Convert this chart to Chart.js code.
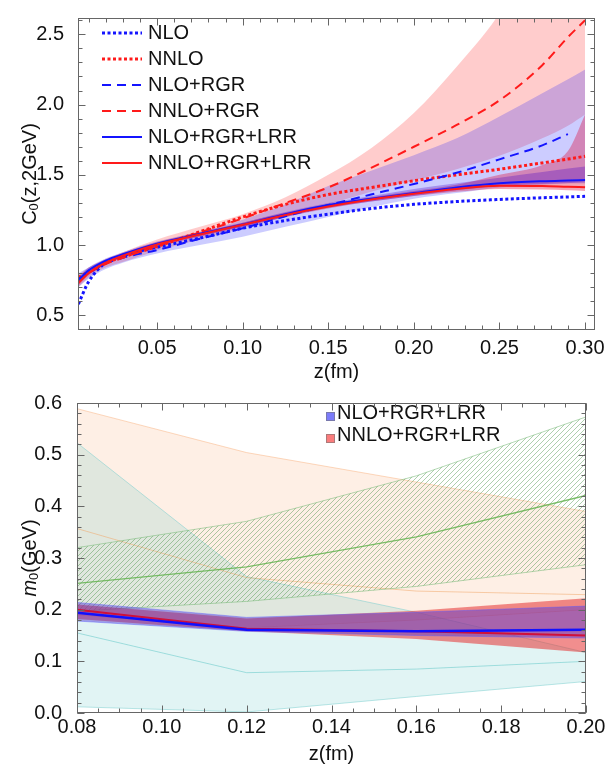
<!DOCTYPE html>
<html>
<head>
<meta charset="utf-8">
<script src="https://cdn.jsdelivr.net/npm/chart.js"></script>
<style>
  body { margin: 0; background: #fff; }
  canvas { display: block; }
</style>
</head>
<body>
<canvas id="top" width="608" height="384"></canvas>
<canvas id="bottom" width="608" height="384"></canvas>
<script>
// ---- top panel: C0(z, 2GeV) vs z ----
const zTop = [0.004, 0.01, 0.02, 0.03, 0.05, 0.075, 0.10, 0.125, 0.15, 0.175, 0.20, 0.225, 0.25, 0.275, 0.29, 0.30];

const nlo      = [0.58, 0.74, 0.875, 0.925, 0.985, 1.05, 1.12, 1.175, 1.22, 1.26, 1.29, 1.31, 1.325, 1.337, 1.343, 1.347];
const nnlo     = [0.77, 0.81, 0.875, 0.915, 0.99, 1.095, 1.20, 1.29, 1.36, 1.41, 1.458, 1.50, 1.54, 1.585, 1.612, 1.632];
const nloRgr   = [0.76, 0.80, 0.87, 0.91, 0.965, 1.045, 1.12, 1.205, 1.285, 1.36, 1.435, 1.515, 1.61, 1.71, 1.79, null];
const nnloRgr  = [0.74, 0.80, 0.865, 0.91, 0.995, 1.09, 1.19, 1.30, 1.41, 1.55, 1.70, 1.855, 2.03, 2.28, 2.48, 2.60];
const nloLrr   = [0.75, 0.82, 0.89, 0.935, 1.01, 1.08, 1.146, 1.22, 1.285, 1.33, 1.37, 1.41, 1.44, 1.455, 1.46, 1.463];
const nnloLrr  = [0.73, 0.80, 0.875, 0.925, 1.005, 1.075, 1.145, 1.215, 1.275, 1.325, 1.366, 1.40, 1.422, 1.42, 1.415, 1.412];

// uncertainty bands (lower / upper)
const nnloRgrLo = [0.70, 0.77, 0.84, 0.88, 0.96, 1.04, 1.12, 1.20, 1.29, 1.38, 1.46, 1.54, 1.635, 1.76, 1.85, 1.93];
const nnloRgrHi = [0.79, 0.84, 0.90, 0.95, 1.04, 1.13, 1.22, 1.34, 1.50, 1.69, 1.94, 2.27, 2.65, 3.2, 3.5, 3.9];
const nloRgrLo  = [0.70, 0.76, 0.83, 0.875, 0.94, 1.00, 1.06, 1.13, 1.20, 1.27, 1.33, 1.37, 1.41, 1.43, 1.44, 1.45];
const nloRgrHi  = [0.80, 0.84, 0.90, 0.94, 1.01, 1.09, 1.18, 1.29, 1.42, 1.53, 1.64, 1.76, 1.915, 2.08, 2.18, 2.25];
const nnloLrrLo = [0.71, 0.785, 0.86, 0.91, 0.99, 1.06, 1.13, 1.20, 1.26, 1.31, 1.35, 1.38, 1.40, 1.395, 1.39, 1.385];
const nnloLrrHi = [0.75, 0.815, 0.89, 0.94, 1.02, 1.09, 1.16, 1.23, 1.29, 1.34, 1.385, 1.43, 1.50, 1.57, 1.67, 1.93];
const nloLrrLo  = [0.73, 0.80, 0.875, 0.92, 0.995, 1.065, 1.13, 1.20, 1.265, 1.31, 1.35, 1.39, 1.42, 1.435, 1.44, 1.44];
const nloLrrHi  = [0.77, 0.84, 0.905, 0.95, 1.025, 1.095, 1.16, 1.235, 1.30, 1.35, 1.40, 1.44, 1.48, 1.52, 1.545, 1.56];

// ---- bottom panel: m0 vs z ----
const zBot = [0.08, 0.12, 0.16, 0.20];

const orangeLo  = [0.19, 0.165, 0.18, 0.20];
const orangeMid = [0.357, 0.262, 0.236, 0.229];
const orangeHi  = [0.589, 0.504, 0.447, 0.39];
const tealLo    = [0.012, 0.002, 0.032, 0.061];
const tealMid   = [0.155, 0.078, 0.085, 0.10];
const tealHi    = [0.523, 0.264, 0.195, 0.117];
const greenLo   = [0.197, 0.216, 0.245, 0.287];
const greenMid  = [0.251, 0.283, 0.341, 0.421];
const greenHi   = [0.32, 0.371, 0.459, 0.573];
const m0NloLo   = [0.178, 0.158, 0.15, 0.145];
const m0NloHi   = [0.214, 0.185, 0.195, 0.207];
const m0NnloLo  = [0.182, 0.158, 0.143, 0.117];
const m0NnloHi  = [0.21, 0.183, 0.198, 0.222];
const m0Nlo     = [0.194, 0.161, 0.158, 0.161];
const m0Nnlo    = [0.200, 0.163, 0.158, 0.150];

const FONT = '"Liberation Sans", Arial, sans-serif';
const FS = 20;
const BLUE = '#1414ff';
const RED = '#ff1a1a';

function pts(xs, ys) {
  return xs.map((x, i) => ({x: x, y: ys[i]}));
}

function line(label, xs, ys, color, dash, width) {
  return {label: label, data: pts(xs, ys), borderColor: color, borderWidth: width, borderDash: dash, fill: false};
}

// lower + upper dataset, filled between
function band(label, xs, lo, hi, color, edge) {
  return [
    {data: pts(xs, lo), borderColor: edge || 'transparent', borderWidth: edge ? 1 : 0, fill: false},
    {label: label, data: pts(xs, hi), borderColor: edge || 'transparent', borderWidth: edge ? 1 : 0,
     fill: '-1', backgroundColor: color}
  ];
}

// Mathematica-like frame with inward ticks on all four sides
const frameTicks = {
  id: 'frameTicks',
  afterDraw(chart, args, opts) {
    const {ctx, chartArea: a} = chart;
    const xs = chart.scales.x, ys = chart.scales.y;
    const L = Math.round(a.left) + 0.5, R = Math.round(a.right) - 0.5;
    const T = Math.round(a.top) + 0.5, B = Math.round(a.bottom) - 0.5;
    const list = (s, step) => {
      const out = [];
      for (let k = Math.ceil(s.min / step - 1e-6); k * step <= s.max + 1e-9; k++) out.push(k * step);
      return out;
    };
    ctx.save();
    ctx.strokeStyle = '#666';
    ctx.lineWidth = 1;
    ctx.beginPath();
    const tx = (v, len) => {
      const p = Math.round(xs.getPixelForValue(v)) + 0.5;
      ctx.moveTo(p, B); ctx.lineTo(p, B - len);
      ctx.moveTo(p, T); ctx.lineTo(p, T + len);
    };
    const ty = (v, len) => {
      const p = Math.round(ys.getPixelForValue(v)) + 0.5;
      ctx.moveTo(L, p); ctx.lineTo(L + len, p);
      ctx.moveTo(R, p); ctx.lineTo(R - len, p);
    };
    list(xs, opts.xMinor).forEach(v => tx(v, 4));
    list(ys, opts.yMinor).forEach(v => ty(v, 4));
    xs.ticks.forEach(t => tx(t.value, 7));
    ys.ticks.forEach(t => ty(t.value, 7));
    ctx.stroke();
    ctx.strokeRect(L, T, R - L, B - T);
    ctx.restore();
  }
};

// legend drawn inside the plot
const innerLegend = {
  id: 'innerLegend',
  afterDatasetsDraw(chart, args, opts) {
    const ctx = chart.ctx;
    ctx.save();
    ctx.font = FS + 'px ' + FONT;
    ctx.textBaseline = 'middle';
    opts.rows.forEach((idx, r) => {
      const ds = chart.data.datasets[idx];
      const y = opts.y + r * opts.gap;
      if (opts.boxes) {
        ctx.fillStyle = opts.boxes[r];
        ctx.strokeStyle = 'rgba(120,120,120,0.6)';
        ctx.fillRect(opts.x, y - 1, 9, 9);
        ctx.strokeRect(opts.x + 0.5, y - 0.5, 8, 8);
        ctx.fillStyle = '#111';
        ctx.fillText(ds.label, opts.x + 11, y);
      } else {
        ctx.strokeStyle = ds.borderColor;
        ctx.lineWidth = ds.borderWidth;
        ctx.setLineDash(ds.borderDash || []);
        ctx.beginPath();
        ctx.moveTo(opts.x, y);
        ctx.lineTo(opts.x + opts.len, y);
        ctx.stroke();
        ctx.setLineDash([]);
        ctx.fillStyle = '#111';
        ctx.fillText(ds.label, opts.x + opts.len + 6, y);
      }
    });
    ctx.restore();
  }
};

// rotated y title with subscript
const yTitle = {
  id: 'yTitle',
  afterDraw(chart, args, opts) {
    const {ctx, chartArea: a} = chart;
    ctx.save();
    ctx.translate(opts.x, (a.top + a.bottom) / 2);
    ctx.rotate(-Math.PI / 2);
    ctx.textBaseline = 'middle';
    ctx.fillStyle = '#111';
    let w = 0;
    opts.parts.forEach(p => { ctx.font = p.font; w += ctx.measureText(p.text).width; });
    let cx = -w / 2;
    opts.parts.forEach(p => {
      ctx.font = p.font;
      ctx.fillText(p.text, cx, p.dy || 0);
      cx += ctx.measureText(p.text).width;
    });
    ctx.restore();
  }
};

function axisTicks(fmt) {
  return {color: '#111', font: {family: FONT, size: FS}, autoSkip: false, maxRotation: 0,
          includeBounds: false, callback: v => v.toFixed(fmt)};
}

const commonOptions = {
  responsive: false,
  animation: false,
  devicePixelRatio: 1,
  events: []
};

// ---------- top chart ----------
const topDatasets = [
  line('NNLO+RGR+LRR', zTop, nnloLrr, RED, [], 2),
  line('NLO+RGR+LRR', zTop, nloLrr, BLUE, [], 2),
  line('NNLO+RGR', zTop, nnloRgr, RED, [9, 6], 2),
  line('NLO+RGR', zTop, nloRgr, BLUE, [9, 6], 2),
  line('NNLO', zTop, nnlo, RED, [3, 2.5], 3),
  line('NLO', zTop, nlo, BLUE, [3, 2.5], 3),
  ...band('', zTop, nloLrrLo, nloLrrHi, 'rgba(70,0,200,0.3)'),
  ...band('', zTop, nnloLrrLo, nnloLrrHi, 'rgba(220,0,50,0.35)'),
  ...band('', zTop, nloRgrLo, nloRgrHi, 'rgba(0,0,255,0.2)'),
  ...band('', zTop, nnloRgrLo, nnloRgrHi, 'rgba(255,0,0,0.2)')
];

new Chart(document.getElementById('top'), {
  type: 'line',
  data: {datasets: topDatasets},
  options: {
    ...commonOptions,
    layout: {padding: {left: 0, right: 13, top: 10, bottom: 0}},
    elements: {point: {radius: 0}, line: {cubicInterpolationMode: 'monotone'}},
    plugins: {
      legend: {display: false},
      tooltip: {enabled: false},
      frameTicks: {xMinor: 0.01, yMinor: 0.1},
      innerLegend: {x: 102, y: 33, gap: 26, len: 40, rows: [5, 4, 3, 2, 1, 0]},
      yTitle: {x: 30, parts: [
        {text: 'C', font: FS + 'px ' + FONT},
        {text: '0', font: '13px ' + FONT, dy: 4},
        {text: '(z,2GeV)', font: FS + 'px ' + FONT}
      ]}
    },
    scales: {
      x: {
        type: 'linear', min: 0.0038, max: 0.3058,
        grid: {display: false}, border: {display: false},
        ticks: {...axisTicks(2), stepSize: 0.05, padding: -2},
        title: {display: true, text: 'z(fm)', color: '#111', font: {family: FONT, size: FS}, padding: 0},
        afterFit: s => { s.height = 54; }
      },
      y: {
        type: 'linear', min: 0.396, max: 2.616,
        grid: {display: false}, border: {display: false},
        ticks: {...axisTicks(1), stepSize: 0.5, padding: 6},
        afterFit: s => { s.width = 78; }
      }
    }
  },
  plugins: [frameTicks, innerLegend, yTitle]
});

// ---------- bottom chart ----------
function hatch(ctxForPattern) {
  const c = document.createElement('canvas');
  c.width = 5; c.height = 5;
  const g = c.getContext('2d');
  g.strokeStyle = 'rgba(60,140,60,0.6)';
  g.lineWidth = 0.7;
  g.beginPath();
  g.moveTo(0, 5); g.lineTo(5, 0);
  g.moveTo(-1, 1); g.lineTo(1, -1);
  g.moveTo(4, 6); g.lineTo(6, 4);
  g.stroke();
  return ctxForPattern.createPattern(c, 'repeat');
}

const bottomCanvas = document.getElementById('bottom');
const greenHatch = hatch(bottomCanvas.getContext('2d'));

const bottomDatasets = [
  line('', zBot, m0Nlo, '#1010ff', [], 2.5),
  line('', zBot, m0Nnlo, '#d0103a', [], 2),
  ...band('NLO+RGR+LRR', zBot, m0NloLo, m0NloHi, 'rgba(80,50,210,0.45)', 'rgba(90,90,255,0.45)'),
  ...band('NNLO+RGR+LRR', zBot, m0NnloLo, m0NnloHi, 'rgba(230,50,50,0.55)'),
  line('', zBot, greenMid, 'rgba(100,180,80,0.85)', [], 1.3),
  ...band('', zBot, greenLo, greenHi, greenHatch, 'rgba(120,185,120,0.55)'),
  line('', zBot, orangeMid, 'rgba(240,170,110,0.55)', [], 1),
  line('', zBot, tealMid, 'rgba(100,200,200,0.55)', [], 1),
  ...band('', zBot, tealLo, tealHi, 'rgba(80,190,190,0.17)', 'rgba(120,205,205,0.5)'),
  ...band('', zBot, orangeLo, orangeHi, 'rgba(250,150,80,0.15)', 'rgba(250,180,130,0.5)')
];

new Chart(bottomCanvas, {
  type: 'line',
  data: {datasets: bottomDatasets},
  options: {
    ...commonOptions,
    layout: {padding: {left: 0, right: 22, top: 16, bottom: 2}},
    elements: {point: {radius: 0}, line: {tension: 0}},
    plugins: {
      legend: {display: false},
      tooltip: {enabled: false},
      frameTicks: {xMinor: 0.005, yMinor: 0.02},
      innerLegend: {x: 326, y: 29, gap: 22, rows: [3, 5],
                    boxes: ['rgba(110,110,250,0.9)', 'rgba(250,110,110,0.9)']},
      yTitle: {x: 30, parts: [
        {text: 'm', font: 'italic ' + FS + 'px ' + FONT},
        {text: '0', font: '13px ' + FONT, dy: 4},
        {text: '(GeV)', font: FS + 'px ' + FONT}
      ]}
    },
    scales: {
      x: {
        type: 'linear', min: 0.08, max: 0.20,
        grid: {display: false}, border: {display: false},
        ticks: {...axisTicks(2), stepSize: 0.02, padding: -6},
        title: {display: true, text: 'z(fm)', color: '#111', font: {family: FONT, size: FS}, padding: 0},
        afterFit: s => { s.height = 53; }
      },
      y: {
        type: 'linear', min: 0, max: 0.6,
        grid: {display: false}, border: {display: false},
        ticks: {...axisTicks(1), stepSize: 0.1, padding: 7},
        afterFit: s => { s.width = 77; }
      }
    }
  },
  plugins: [frameTicks, innerLegend, yTitle]
});
</script>
</body>
</html>
